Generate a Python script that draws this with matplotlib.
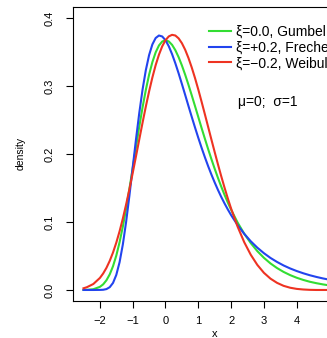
import matplotlib
matplotlib.use("Agg")
import matplotlib.pyplot as plt

# x positions (finer steps around the peaks)
x = [-2.5, -2.4, -2.2,
     -2.0, -1.9, -1.8, -1.7, -1.6, -1.5, -1.4, -1.3, -1.2, -1.1, -1.0,
     -0.9, -0.8, -0.7, -0.6, -0.5, -0.4, -0.3, -0.2, -0.1, 0.0,
     0.1, 0.2, 0.3, 0.4, 0.5, 0.6, 0.7, 0.8, 0.9, 1.0,
     1.1, 1.2, 1.3, 1.4, 1.5, 1.6, 1.7, 1.8, 1.9, 2.0,
     2.2, 2.4, 2.6, 2.8, 3.0, 3.2, 3.4, 3.6, 3.8, 4.0,
     4.2, 4.4, 4.6, 4.8, 5.0, 5.2, 5.4, 5.5]

gumbel = [0.0001, 0.0002, 0.0011,
          0.0046, 0.0083, 0.0143, 0.0230, 0.0350, 0.0507, 0.0703, 0.0935, 0.1200, 0.1489, 0.1794,
          0.2102, 0.2404, 0.2688, 0.2946, 0.3171, 0.3356, 0.3500, 0.3601, 0.3660, 0.3679,
          0.3661, 0.3611, 0.3532, 0.3429, 0.3307, 0.3170, 0.3022, 0.2867, 0.2708, 0.2547,
          0.2386, 0.2229, 0.2075, 0.1927, 0.1785, 0.1650, 0.1522, 0.1401, 0.1288, 0.1182,
          0.0992, 0.0829, 0.0690, 0.0572, 0.0474, 0.0391, 0.0323, 0.0266, 0.0219, 0.0180,
          0.0148, 0.0121, 0.0100, 0.0082, 0.0067, 0.0055, 0.0045, 0.0041]

frechet = [0.0, 0.0, 0.0,
           0.0001, 0.0003, 0.0013, 0.0041, 0.0104, 0.0222, 0.0409, 0.0672, 0.1005, 0.1391, 0.1803,
           0.2217, 0.2605, 0.2950, 0.3237, 0.3460, 0.3617, 0.3711, 0.3748, 0.3734, 0.3679,
           0.3590, 0.3474, 0.3339, 0.3191, 0.3034, 0.2873, 0.2710, 0.2550, 0.2393, 0.2241,
           0.2095, 0.1956, 0.1824, 0.1700, 0.1583, 0.1473, 0.1370, 0.1275, 0.1186, 0.1103,
           0.0954, 0.0827, 0.0717, 0.0623, 0.0542, 0.0472, 0.0413, 0.0361, 0.0317, 0.0279,
           0.0246, 0.0217, 0.0192, 0.0170, 0.0151, 0.0135, 0.0120, 0.0114]

weibull = [0.0025, 0.0040, 0.0088,
           0.0177, 0.0243, 0.0326, 0.0429, 0.0552, 0.0697, 0.0864, 0.1053, 0.1260, 0.1485, 0.1722,
           0.1968, 0.2217, 0.2463, 0.2701, 0.2925, 0.3130, 0.3312, 0.3465, 0.3589, 0.3679,
           0.3735, 0.3758, 0.3748, 0.3706, 0.3635, 0.3538, 0.3417, 0.3277, 0.3121, 0.2952,
           0.2773, 0.2589, 0.2402, 0.2215, 0.2030, 0.1849, 0.1674, 0.1507, 0.1348, 0.1199,
           0.0931, 0.0704, 0.0518, 0.0369, 0.0253, 0.0167, 0.0105, 0.0061, 0.0033, 0.0016,
           0.0007, 0.0002, 0.0000, 0.0, 0.0, 0.0, 0.0, 0.0]

labels = ["\u03be=0.0, Gumbel", "\u03be=+0.2, Frechet", "\u03be=\u22120.2, Weibull"]
colors = ["#33dd33", "#2244ee", "#ee3322"]

plt.rcParams["font.family"] = ["Liberation Sans", "DejaVu Sans"]
plt.rcParams["axes.unicode_minus"] = True

fig = plt.figure(figsize=(3.27, 3.38), dpi=100)
# axes run past the right edge, like the cropped original
ax = fig.add_axes([73 / 327, 37.3 / 338, 283.4 / 327, 293.7 / 338])

for ys, c, lab in zip([gumbel, frechet, weibull], colors, labels):
    ax.plot(x, ys, color=c, lw=1.5, label=lab)

ax.set_xlim(-2.82, 5.82)
ax.set_ylim(-0.0158, 0.4168)
ax.set_xticks([-2, -1, 0, 1, 2, 3, 4, 5])
ax.set_yticks([0.0, 0.1, 0.2, 0.3, 0.4])
ax.set_yticklabels(["0.0", "0.1", "0.2", "0.3", "0.4"], rotation=90, va="center")
ax.tick_params(labelsize=8, length=5, width=0.8, pad=6)
ax.tick_params(axis="y", pad=8)
for s in ax.spines.values():
    s.set_linewidth(0.8)

ax.set_xlabel("x", fontsize=8, labelpad=2)
ax.set_ylabel("density", fontsize=7.5, labelpad=14)

ax.legend(loc="upper left", bbox_to_anchor=(209 / 327, 1 - 25 / 338),
          bbox_transform=fig.transFigure, frameon=False, fontsize=10,
          handlelength=1.6, handletextpad=0.36, labelspacing=0.12,
          borderpad=0, borderaxespad=0)
fig.text(238 / 327, 1 - 102 / 338, "\u03bc=0;  \u03c3=1", fontsize=10, va="center")

fig.savefig("out.png", dpi=100)
